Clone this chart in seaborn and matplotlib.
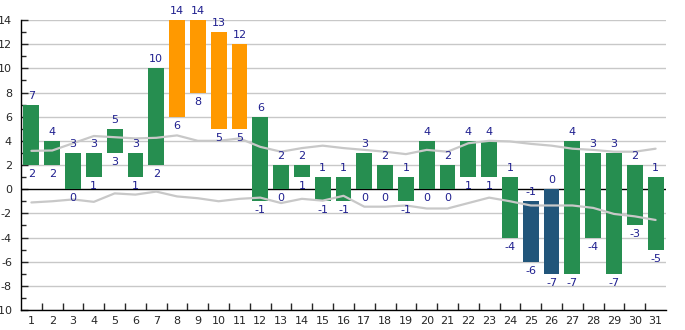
import matplotlib
matplotlib.use("Agg")
import matplotlib.pyplot as plt
import seaborn as sns
import numpy as np
import pandas as pd
from matplotlib.ticker import MultipleLocator

days = list(range(1, 32))
highs = [7, 4, 3, 3, 5, 3, 10, 14, 14, 13, 12, 6, 2, 2, 1, 1, 3, 2, 1, 4, 2, 4, 4, 1, -1, 0, 4, 3, 3, 2, 1]
lows = [2, 2, 0, 1, 3, 1, 2, 6, 8, 5, 5, -1, 0, 1, -1, -1, 0, 0, -1, 0, 0, 1, 1, -4, -6, -7, -7, -4, -7, -3, -5]
upper_band = [3.17, 3.2, 3.8, 4.4, 4.3, 4.2, 4.25, 4.45, 4.0, 4.0, 4.2, 3.5, 3.1, 3.4, 3.6, 3.4,
              3.25, 3.1, 2.9, 3.25, 3.1, 3.8, 4.0, 3.95, 3.75, 3.6, 3.35, 3.25, 3.1, 3.1, 3.35]
lower_band = [-1.1, -1.0, -0.85, -1.05, -0.35, -0.45, -0.2, -0.6, -0.75, -1.0, -0.8, -0.7, -1.15, -0.8,
              -0.95, -0.55, -1.45, -1.45, -1.35, -1.6, -1.6, -1.15, -0.7, -1.0, -1.35, -1.35, -1.35,
              -1.55, -2.05, -2.25, -2.55]
y_ticks = list(range(-10, 15, 2))

GREEN = "#268E50"
ORANGE = "#FF9900"
BLUE = "#21557A"
TXT = "#1f1f8f"

def color_for(lo, hi):
    if lo >= 5:
        return ORANGE
    if hi <= 0:
        return BLUE
    return GREEN

sns.set_style("white")
plt.rcParams['font.family'] = ['DejaVu Sans']

fig = plt.figure(figsize=(6.85, 3.3), dpi=100)
ax = fig.add_axes([21 / 685, 20 / 330, (666 - 21) / 685, 290 / 330])

ax.set_ylim(-10, 14)
ax.set_xlim(0.5, 31.5)

for y in y_ticks:
    if y == 0:
        continue
    ax.axhline(y, color="#c8c8c8", lw=1.0, zorder=0)
ax.axhline(0, color="black", lw=1.0, zorder=1)

colors = [color_for(l, h) for l, h in zip(lows, highs)]
heights = [h - l for h, l in zip(highs, lows)]
ax.bar(days, heights, bottom=lows, width=0.76, color=colors, zorder=2, linewidth=0)

df = pd.DataFrame({"day": days, "upper": upper_band, "lower": lower_band})
sns.lineplot(data=df, x="day", y="upper", ax=ax, color="#c8c8c8", lw=1.6, zorder=3)
sns.lineplot(data=df, x="day", y="lower", ax=ax, color="#c8c8c8", lw=1.6, zorder=3)

for d, h, l in zip(days, highs, lows):
    ax.annotate(str(h), (d, h), xytext=(0, 6.5), textcoords="offset points",
                ha="center", va="center", color=TXT, fontsize=8, zorder=4)
    ax.annotate(str(l), (d, l), xytext=(0, -6.5), textcoords="offset points",
                ha="center", va="center", color=TXT, fontsize=8, zorder=4)

ax.set_xlabel("")
ax.set_ylabel("")
ax.set_yticks(y_ticks)
ax.set_yticklabels([str(v) for v in y_ticks])
ax.yaxis.set_minor_locator(MultipleLocator(1))
ax.tick_params(axis="y", which="major", direction="in", length=5, width=1, labelsize=8, pad=6.5, left=True)
ax.tick_params(axis="y", which="minor", direction="in", length=3.5, width=1, left=True)

ax.set_xticks(days)
ax.set_xticklabels([str(d) for d in days])
ax.set_xticks(np.arange(1.5, 31.5, 1), minor=True)
ax.tick_params(axis="x", which="major", length=0, labelsize=8, pad=4)
ax.tick_params(axis="x", which="minor", direction="in", length=5, width=1, bottom=True)

for s in ["top", "right"]:
    ax.spines[s].set_visible(False)
for s in ["left", "bottom"]:
    ax.spines[s].set_visible(True)
    ax.spines[s].set_color("black")
    ax.spines[s].set_linewidth(1.0)

fig.savefig("out.png", dpi=100)
